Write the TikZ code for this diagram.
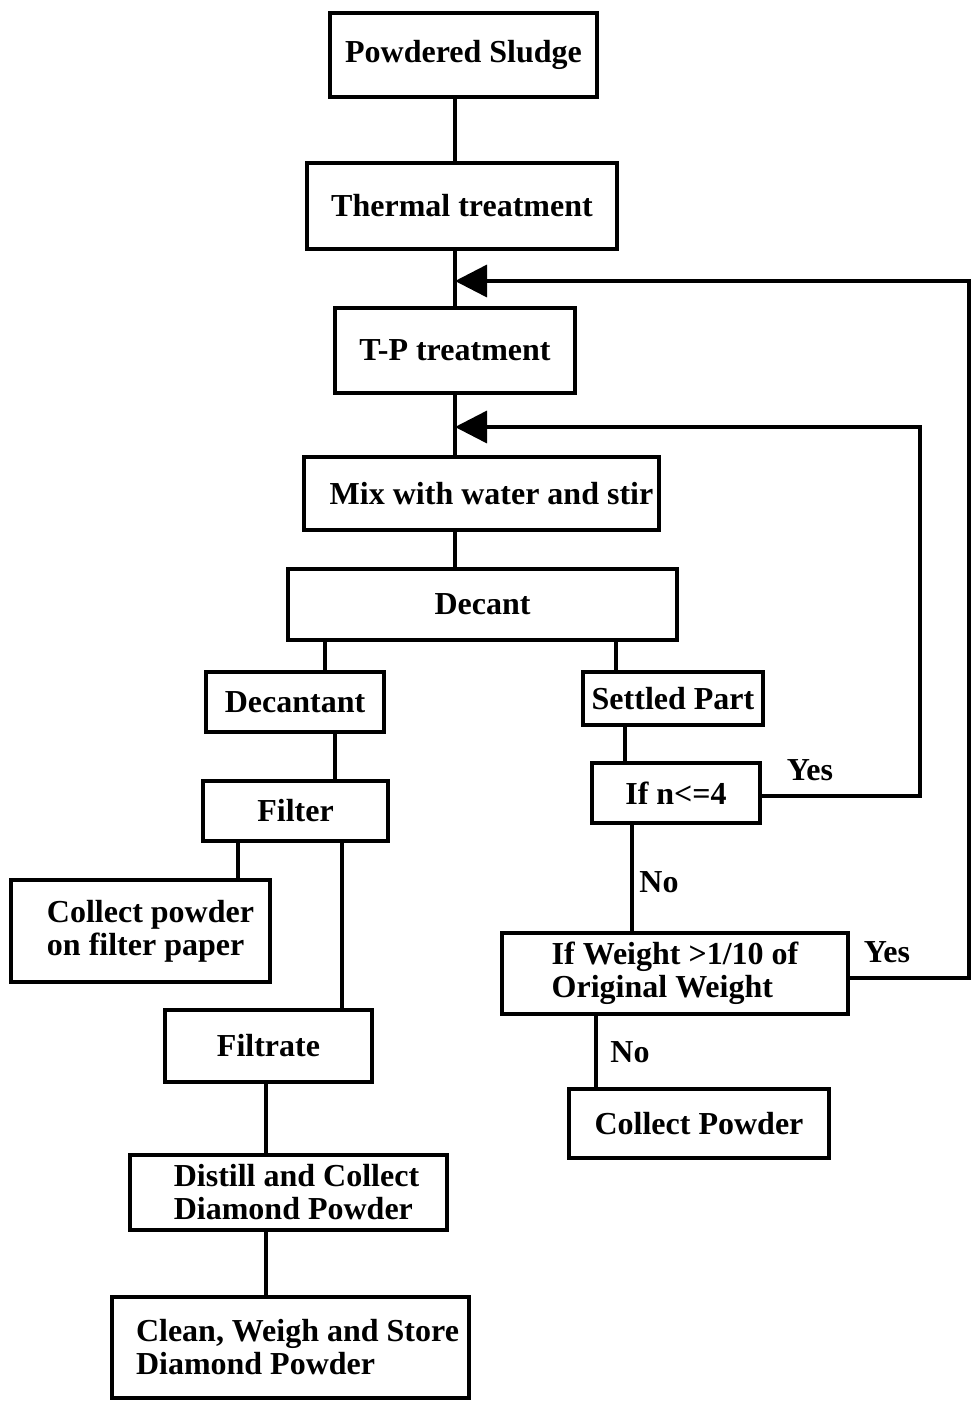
\documentclass[tikz,border=0pt]{standalone}
\usepackage{fontspec}
\setmainfont{Liberation Serif}
\usetikzlibrary{arrows.meta}
\tikzset{
  box/.style={draw, line width=3.5pt, inner sep=0pt, font=\fontsize{32}{33}\selectfont\bfseries, align=center},
  link/.style={line width=3.5pt},
  feed/.style={line width=3.5pt, -{Triangle[length=32pt,width=32pt]}},
  tag/.style={inner sep=0pt, font=\fontsize{32}{33}\selectfont\bfseries},
}
\begin{document}
\begin{tikzpicture}[x=1pt,y=-1pt]
\useasboundingbox (0,0) rectangle (972,1401);

% process boxes
\node[box, minimum width=267, minimum height=84] (ps) at (463.5,55) {Powdered Sludge};
\node[box, minimum width=310, minimum height=86] (tt) at (462,206) {Thermal treatment};
\node[box, minimum width=240, minimum height=85] (tp) at (455,350.5) {T-P treatment};
\node[box, minimum width=355, minimum height=73] (mix) at (481.5,493.5) {\hspace*{20pt}Mix with water and stir};
\node[box, minimum width=389, minimum height=71] (dec) at (482.5,604.5) {Decant};
\node[box, minimum width=178, minimum height=60] (dnt) at (295,702) {Decantant};
\node[box, minimum width=180, minimum height=53] (set) at (673,698.5) {Settled Part};
\node[box, minimum width=168, minimum height=60] (ifn) at (676,793) {If n<=4};
\node[box, minimum width=185, minimum height=60] (fil) at (295.5,811) {Filter};
\node[box, minimum width=259, minimum height=102, align=left] (cfp) at (140.5,931) {\hspace*{20pt}Collect powder\\\hspace*{20pt}on filter paper};
\node[box, minimum width=346, minimum height=81, align=left] (ifw) at (675,973.5) {If Weight >1/10 of\\Original Weight};
\node[box, minimum width=207, minimum height=72] (ftr) at (268.5,1046) {Filtrate};
\node[box, minimum width=260, minimum height=69] (cp) at (699,1123.5) {Collect Powder};
\node[box, minimum width=317, minimum height=75, align=left] (dis) at (288.5,1192.5) {\hspace*{16pt}Distill and Collect\\\hspace*{16pt}Diamond Powder};
\node[box, minimum width=357, minimum height=101, align=left] (cln) at (290.5,1347.5) {\hspace*{14pt}Clean, Weigh and Store\\\hspace*{14pt}Diamond Powder};

% branch labels
\node[tag] (yes1) at (810,770) {Yes};
\node[tag] (yes2) at (887,952) {Yes};
\node[tag] (no1) at (659,882) {No};
\node[tag] (no2) at (630,1052) {No};

% columns and rows used by the connectors
\coordinate (cx) at (455,0);
\coordinate (c1) at (325,0);
\coordinate (c2) at (616,0);
\coordinate (c3) at (335,0);
\coordinate (c4) at (625,0);
\coordinate (c5) at (238,0);
\coordinate (c6) at (342,0);
\coordinate (c7) at (632,0);
\coordinate (c8) at (596,0);
\coordinate (c9) at (266,0);
\coordinate (r1) at (0,281);
\coordinate (r2) at (0,427);
\coordinate (r3) at (0,796);
\coordinate (r4) at (0,978);
\coordinate (x1) at (920,0);
\coordinate (x2) at (969,0);

% main spine
\draw[link] (ps.south -| cx) -- (tt.north -| cx);
\draw[link] (tt.south -| cx) -- (tp.north -| cx);
\draw[link] (tp.south -| cx) -- (mix.north -| cx);
\draw[link] (mix.south -| cx) -- (dec.north -| cx);

% decant branches
\draw[link] (dec.south -| c1) -- (dnt.north -| c1);
\draw[link] (dec.south -| c2) -- (set.north -| c2);
\draw[link] (dnt.south -| c3) -- (fil.north -| c3);
\draw[link] (set.south -| c4) -- (ifn.north -| c4);
\draw[link] (fil.south -| c5) -- (cfp.north -| c5);
\draw[link] (fil.south -| c6) -- (ftr.north -| c6);
\draw[link] (ifn.south -| c7) -- (ifw.north -| c7);
\draw[link] (ifw.south -| c8) -- (cp.north -| c8);
\draw[link] (ftr.south -| c9) -- (dis.north -| c9);
\draw[link] (dis.south -| c9) -- (cln.north -| c9);

% feedback loops
\draw[feed] (ifn.east |- r3) -- (x1 |- r3) -- (x1 |- r2) -- (cx |- r2);
\draw[feed] (ifw.east |- r4) -- (x2 |- r4) -- (x2 |- r1) -- (cx |- r1);
\end{tikzpicture}
\end{document}
